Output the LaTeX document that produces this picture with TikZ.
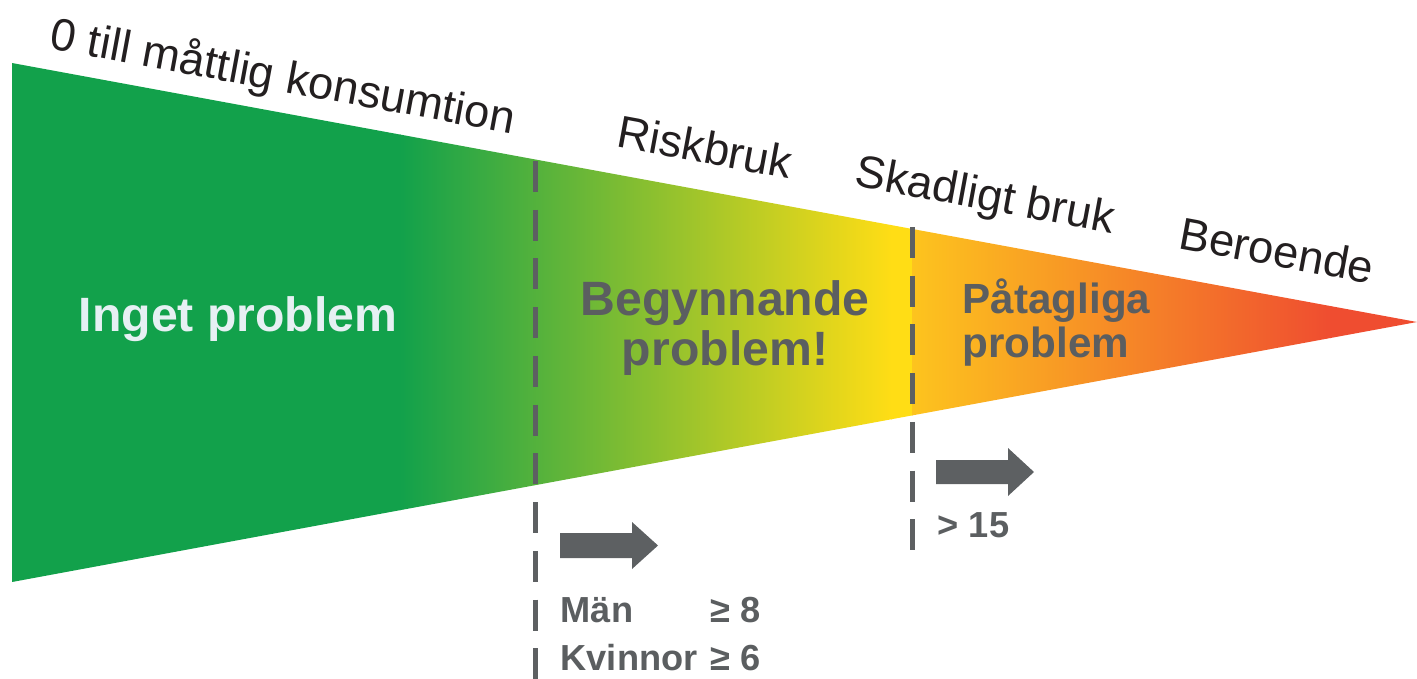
\documentclass[tikz,border=0pt]{standalone}
\usepackage{fontspec}
\setmainfont{Liberation Sans}
\usetikzlibrary{positioning}

\definecolor{stage-green}{HTML}{12A14B}
\definecolor{stage-yellow}{HTML}{FFDD15}
\definecolor{stage-amber}{HTML}{FDC41E}
\definecolor{stage-red}{HTML}{EF4D30}
\definecolor{label-black}{HTML}{231F20}
\definecolor{text-gray}{HTML}{5B5E60}
\definecolor{cut-gray}{HTML}{5D6062}
\definecolor{zone-white}{HTML}{E6F0F3}

\begin{document}
\begin{tikzpicture}[
x=0.01cm, y=-0.01cm,
stage-label/.style={font=\fontsize{12.9}{15}\selectfont, text=label-black, rotate=-10.45, inner sep=0pt},
zone-label/.style={font=\fontsize{13.7}{14.2}\selectfont\bfseries, inner sep=0pt},
zone-light/.style={zone-label, text=zone-white},
zone-dark/.style={zone-label, text=text-gray},
limit-label/.style={font=\fontsize{10.3}{13.6}\selectfont\bfseries, text=text-gray, inner sep=0pt, anchor=base west},
cut-line/.style={draw=cut-gray, line width=0.05cm, dash pattern=on 0.31cm off 0.177cm},
shift-arrow/.style={fill=cut-gray}
]
\useasboundingbox (0,0) rectangle (1417,678);

% the funnel
\coordinate (funnel-top) at (12,63);
\coordinate (funnel-tip) at (1417,322);
\coordinate (funnel-bot) at (12,582);
\begin{scope}
\clip (funnel-top) -- (funnel-tip) -- (funnel-bot) -- cycle;
\fill[stage-green] (12,63) rectangle (401,582);
\shade[left color=stage-green, right color=stage-yellow] (400,63) rectangle (892,582);
\fill[stage-yellow] (891,63) rectangle (913,582);
\shade[left color=stage-amber, right color=stage-red] (912,63) rectangle (1331,582);
\fill[stage-red] (1330,63) rectangle (1417,582);
\end{scope}

% limits
\coordinate (risk-top) at (535,161);
\coordinate (risk-bot) at (535,680);
\coordinate (harm-top) at (912,227);
\coordinate (harm-bot) at (912,550);
\path [cut-line] (risk-top) -- (risk-bot);
\path [cut-line] (harm-top) -- (harm-bot);

% stages
\node [stage-label] (none) at (283,78) {0 till måttlig konsumtion};
\node [stage-label] (risk) at (705,147) {Riskbruk};
\node [stage-label] (harm) at (985,198) {Skadligt bruk};
\node [stage-label] (dep) at (1277,250) {Beroende};

\node [zone-light, anchor=base] (none-zone) at (238,331) {Inget problem};
\node [zone-dark, align=center, anchor=base] (risk-zone) at (725,365) {Begynnande\\problem!};
\node [zone-dark, align=left, anchor=base west, font=\fontsize{12}{12.5}\selectfont\bfseries] (harm-zone) at (962,357) {Påtagliga\\problem};

% thresholds
\fill[shift-arrow] (560,545.5) ++(0,-12.5) -- ++(72,0) -- ++(0,-11) -- ++(26,23.5) -- ++(-26,23.5) -- ++(0,-11) -- ++(-72,0) -- cycle;
\fill[shift-arrow] (936,472) ++(0,-12) -- ++(72,0) -- ++(0,-12) -- ++(26,24) -- ++(-26,24) -- ++(0,-12) -- ++(-72,0) -- cycle;

\node [limit-label] (men) at (560,622) {Män};
\node [limit-label] (men-val) at (710,622) {≥ 8};
\node [limit-label, below=0.48cm of men.base west, anchor=base west] (women) {Kvinnor};
\node [limit-label, below=0.48cm of men-val.base west, anchor=base west] (women-val) {≥ 6};
\node [limit-label] (harm-val) at (937,537) {> 15};

\end{tikzpicture}
\end{document}
